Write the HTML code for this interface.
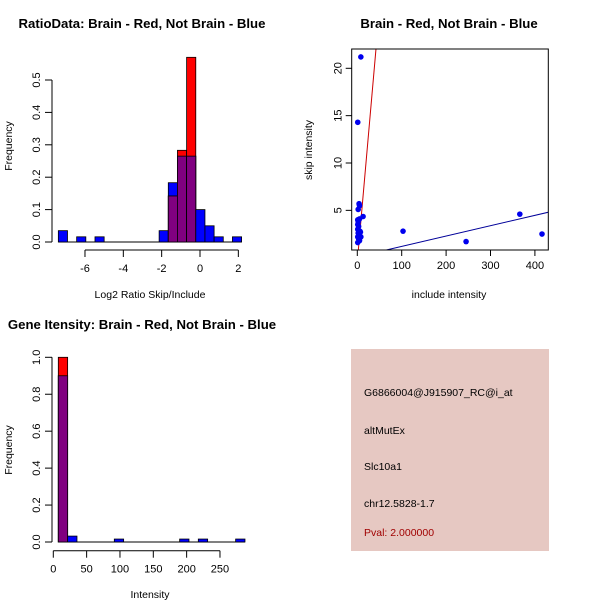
<!DOCTYPE html>
<html><head><meta charset="utf-8"><style>
html,body{margin:0;padding:0;background:#fff}
svg{display:block;font-family:"Liberation Sans",Arial,sans-serif}
</style></head><body>
<svg id="s" width="600" height="600" viewBox="0 0 600 600">
<rect width="600" height="600" fill="#fff"/>
<text x="142" y="28" font-size="13.2" font-weight="bold" text-anchor="middle">RatioData: Brain - Red, Not Brain - Blue</text>
<text x="449" y="28" font-size="13.2" font-weight="bold" text-anchor="middle">Brain - Red, Not Brain - Blue</text>
<text x="142" y="329" font-size="13.2" font-weight="bold" text-anchor="middle">Gene Itensity: Brain - Red, Not Brain - Blue</text>
<text x="150" y="298" font-size="10.5" text-anchor="middle">Log2 Ratio Skip/Include</text>
<text transform="translate(12,146) rotate(-90)" font-size="10.5" text-anchor="middle">Frequency</text>
<text x="449" y="298" font-size="10.5" text-anchor="middle">include intensity</text>
<text transform="translate(312,150) rotate(-90)" font-size="10.5" text-anchor="middle">skip intensity</text>
<text x="150" y="598" font-size="10.5" text-anchor="middle">Intensity</text>
<text transform="translate(12,450) rotate(-90)" font-size="10.5" text-anchor="middle">Frequency</text>
<g>
<rect x="351" y="349" width="198" height="202" fill="#e6c8c2"/>
<text x="364" y="396" font-size="10.5">G6866004@J915907_RC@i_at</text>
<text x="364" y="434" font-size="10.5">altMutEx</text>
<text x="364" y="470" font-size="10.5">Slc10a1</text>
<text x="364" y="507" font-size="10.5">chr12.5828-1.7</text>
<text x="364" y="536" font-size="10.5" fill="#a00000">Pval: 2.000000</text>
</g>
<g id="g1"></g><g id="g2"></g><g id="g3"></g>
</svg>
<script>
// Ratio histogram
const ratioStart = -7.39, ratioWidth = 0.478;
const ratioBlue = [0.035,0,0.016,0,0.016,0,0,0,0,0,0,0.035,0.183,0.265,0.265,0.1,0.05,0.016,0,0.016];
const ratioRed  = [0,0,0,0,0,0,0,0,0,0,0,0,0.142,0.283,0.57,0,0,0,0,0];
const ratioXTicks = [-6,-4,-2,0,2];
const ratioYTicks = [0,0.1,0.2,0.3,0.4,0.5];
// Intensity histogram
const intStart = 7.5, intWidth = 14;
const intBlue = [0.9,0.032,0,0,0,0,0.016,0,0,0,0,0,0,0.016,0,0.016,0,0,0,0.016];
const intRed  = [1.0,0,0,0,0,0,0,0,0,0,0,0,0,0,0,0,0,0,0,0];
const intXTicks = [0,50,100,150,200,250];
const intYTicks = [0,0.2,0.4,0.6,0.8,1.0];
// Scatter
const scX = [8,1,103,245,366,416,4,5,2,13,5,1,2,1,3,1,6,2,4,1,3,5,1,7,8];
const scY = [21.2,14.3,2.8,1.7,4.6,2.5,5.7,5.5,5.1,4.35,4.1,4,3.8,3.5,3.3,3.0,2.8,2.6,2.4,2.2,2.0,1.8,1.6,2.7,2.2];
const redFit = [-0.43,0.534];
const blueFit = [0.1,0.01093];
const scXTicks = [0,100,200,300,400];
const scYTicks = [5,10,15,20];

const NS='http://www.w3.org/2000/svg';
function mk(p,t,a){const e=document.createElementNS(NS,t);for(const k in a)e.setAttribute(k,a[k]);p.appendChild(e);return e;}

function hist(g,start,w,blue,red,xs,ys,xt,yt,axY,yTop,name){
  const n=blue.length;
  mk(g,'line',{x1:xs(start),x2:xs(start+n*w),y1:ys(0),y2:ys(0),stroke:'#000'});
  for(let i=0;i<n;i++){
    const x0=xs(start+i*w),x1=xs(start+(i+1)*w);
    const b=blue[i],r=red[i],m=Math.min(b,r);
    if(b>0){const e=mk(g,'rect',{x:x0,y:ys(b),width:x1-x0,height:ys(0)-ys(b),fill:'#0000ff',stroke:'#000','stroke-width':0.8});
      
      }
    if(r>0){const e=mk(g,'rect',{x:x0,y:ys(r),width:x1-x0,height:ys(0)-ys(r),fill:'#ff0000',stroke:'#000','stroke-width':0.8});
      
      }
    if(m>0){const e=mk(g,'rect',{x:x0,y:ys(m),width:x1-x0,height:ys(0)-ys(m),fill:'#800080',stroke:'#000','stroke-width':0.8});
      
      }
  }
  mk(g,'line',{x1:52,x2:52,y1:ys(yt[0]),y2:ys(yt[yt.length-1]),stroke:'#000'});
  yt.forEach(v=>{mk(g,'line',{x1:45,x2:52,y1:ys(v),y2:ys(v),stroke:'#000'});
    const t=mk(g,'text',{transform:`translate(40,${ys(v)}) rotate(-90)`,'font-size':11,'text-anchor':'middle'});t.textContent=v.toFixed(1);
    
    });
  mk(g,'line',{x1:xs(xt[0]),x2:xs(xt[xt.length-1]),y1:axY,y2:axY,stroke:'#000'});
  xt.forEach(v=>{mk(g,'line',{x1:xs(v),x2:xs(v),y1:axY,y2:axY+7,stroke:'#000'});
    const t=mk(g,'text',{x:xs(v),y:axY+22,'font-size':11,'text-anchor':'middle'});t.textContent=v;
    
    });
}
const g1=document.getElementById('g1');


hist(g1,ratioStart,ratioWidth,ratioBlue,ratioRed,v=>200+v*19.17,v=>242-v*324,ratioXTicks,ratioYTicks,250,80,'ratio');
const g3=document.getElementById('g3');


hist(g3,intStart,intWidth,intBlue,intRed,v=>53.3+v*0.6667,v=>542-v*184.7,intXTicks,intYTicks,550.7,357,'intensity');

const g2=document.getElementById('g2');


const sx=v=>357.3+v*0.444, sy=v=>257.7-v*9.47;
const L=351.7,R=548.3,T=49,B=250;
mk(g2,'clipPath',{id:'cp'}).appendChild(document.createElementNS(NS,'rect'));
const cr=document.querySelector('#cp rect');cr.setAttribute('x',L);cr.setAttribute('y',T);cr.setAttribute('width',R-L);cr.setAttribute('height',B-T);
function fit(c,col,name){const x0=-10,x1=500;
  const e=mk(g2,'line',{x1:sx(x0),y1:sy(c[0]+c[1]*x0),x2:sx(x1),y2:sy(c[0]+c[1]*x1),stroke:col,'stroke-width':1,'clip-path':'url(#cp)'});
  
  }
fit(redFit,'#cc0000','red-fit-line');
fit(blueFit,'#000099','blue-fit-line');
scX.forEach((v,i)=>{const c=mk(g2,'circle',{cx:sx(v),cy:sy(scY[i]),r:2.8,fill:'#0000ee'});
  
  });
mk(g2,'rect',{x:L,y:T,width:R-L,height:B-T,fill:'none',stroke:'#000'});
scXTicks.forEach(v=>{mk(g2,'line',{x1:sx(v),x2:sx(v),y1:B,y2:B+6,stroke:'#000'});
  const t=mk(g2,'text',{x:sx(v),y:B+19,'font-size':11,'text-anchor':'middle'});t.textContent=v;
  
  });
scYTicks.forEach(v=>{mk(g2,'line',{x1:L-6,x2:L,y1:sy(v),y2:sy(v),stroke:'#000'});
  const t=mk(g2,'text',{transform:`translate(${L-10},${sy(v)}) rotate(-90)`,'font-size':11,'text-anchor':'middle'});t.textContent=v;
  
  });
</script>
</body></html>
